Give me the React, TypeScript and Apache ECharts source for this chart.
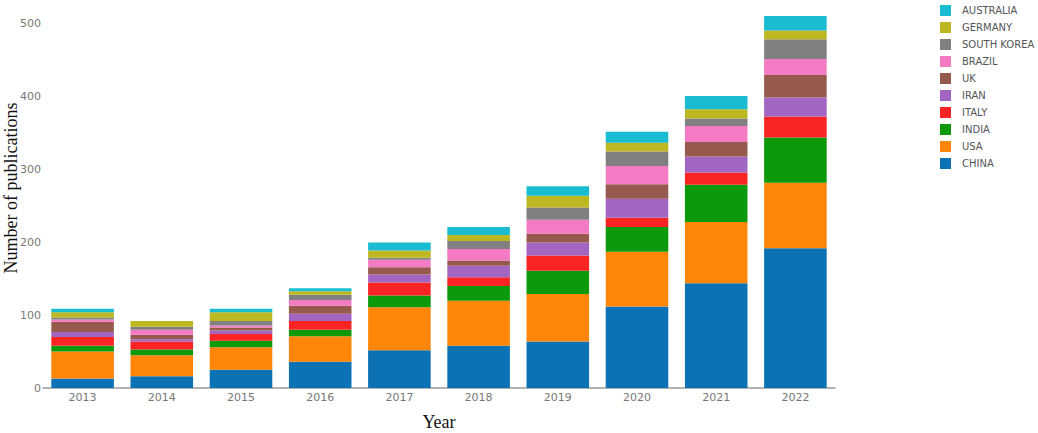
import React, { useEffect, useRef } from "react";
import * as echarts from "echarts";

const years = ["2013", "2014", "2015", "2016", "2017", "2018", "2019", "2020", "2021", "2022"];
const countries = ["CHINA", "USA", "INDIA", "ITALY", "IRAN", "UK", "BRAZIL", "SOUTH KOREA", "GERMANY", "AUSTRALIA"];
const colors = ["#0a72b5", "#ff8609", "#0c9a0c", "#fa2424", "#a266c2", "#96594e", "#f47ac4", "#808080", "#bdb822", "#19bcd0"];

const china = [13, 16, 25, 36, 52, 58, 64, 112, 144, 192];
const usa = [37, 29, 31, 35, 59, 62, 65, 75, 84, 90];
const india = [8, 8, 9, 9, 16, 20, 32, 34, 51, 62];
const italy = [12, 11, 9, 12, 18, 12, 21, 13, 17, 29];
const iran = [7, 3, 5, 10, 11, 16, 18, 26, 22, 26];
const uk = [14, 6, 4, 11, 10, 7, 12, 20, 20, 31];
const brazil = [3, 7, 3, 8, 10, 16, 19, 25, 22, 22];
const southKorea = [3, 4, 6, 7, 3, 11, 17, 20, 10, 27];
const germany = [7, 8, 12, 5, 10, 8, 16, 12, 13, 12];
const australia = [5, 0, 5, 4, 11, 11, 13, 15, 18, 20];

const seriesValues = [china, usa, india, italy, iran, uk, brazil, southKorea, germany, australia];
const yTicks = [0, 100, 200, 300, 400, 500];

export default function App() {
  const ref = useRef<HTMLDivElement>(null);
  useEffect(() => {
    document.body.style.margin = "0";
    if (!ref.current) return;
    const chart = echarts.init(ref.current, undefined, { renderer: "svg" });
    const labelFont = "'DejaVu Sans', Verdana, sans-serif";
    const serif = "'Liberation Serif', 'Times New Roman', serif";
    chart.setOption({
      animation: false,
      color: colors,
      grid: { left: 43, right: 203, top: 9.4, bottom: 45, containLabel: false, outerBoundsMode: "none" },
      legend: {
        orient: "vertical",
        left: 935,
        top: 0,
        itemWidth: 11,
        itemHeight: 11,
        itemGap: 6,
        icon: "rect",
        data: [...countries].reverse(),
        textStyle: { color: "#555", fontSize: 10, fontFamily: labelFont, lineHeight: 11, padding: [0, 0, 0, 6] },
      },
      graphic: [
        {
          type: "text",
          x: 11,
          y: 188,
          rotation: Math.PI / 2,
          style: {
            text: "Number of publications",
            fontFamily: serif,
            fontSize: 18,
            fill: "#111",
            textAlign: "center",
            textVerticalAlign: "middle",
          },
        },
      ],
      xAxis: {
        type: "category",
        data: years,
        name: "Year",
        nameLocation: "middle",
        nameGap: 25,
        nameTextStyle: { fontFamily: serif, fontSize: 18, color: "#111" },
        axisLine: { lineStyle: { color: "#999", width: 1.5 } },
        axisTick: { show: false },
        axisLabel: { color: "#777", fontSize: 11, fontFamily: labelFont, margin: 4 },
      },
      yAxis: {
        type: "value",
        min: 0,
        max: 520,
        interval: 20,
        axisLine: { show: false },
        axisTick: { show: false },
        splitLine: { show: false },
        axisLabel: {
          color: "#777",
          fontSize: 11,
          fontFamily: labelFont,
          margin: 2,
          showMaxLabel: false,
          formatter: (v: number) => (yTicks.includes(v) ? String(v) : ""),
        },
      },
      series: countries.map((name, i) => ({
        name,
        type: "bar",
        stack: "total",
        barCategoryGap: "21%",
        data: seriesValues[i],
        itemStyle: { color: colors[i] },
      })),
    });
    return () => chart.dispose();
  }, []);
  return <div ref={ref} style={{ width: 1038, height: 433, background: "#fff" }} />;
}
